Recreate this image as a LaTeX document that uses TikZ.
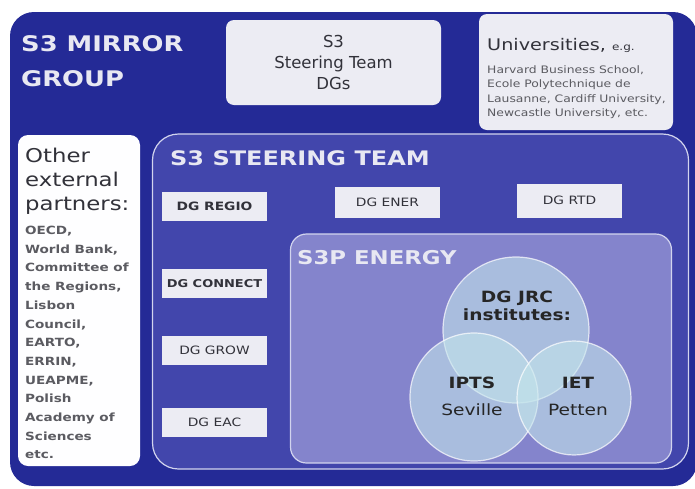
\documentclass[tikz,border=0pt]{standalone}
\usepackage{fontspec}
\setmainfont{DejaVu Sans}
\newfontfamily\widefont[FakeStretch=1.2]{DejaVu Sans}
\usepackage{xcolor}
\usetikzlibrary{positioning}
\definecolor{mirrorBlue}{RGB}{36,42,150}
\definecolor{steeringBlue}{RGB}{66,70,172}
\definecolor{energyLilac}{RGB}{132,132,204}
\definecolor{jrcCyan}{RGB}{195,228,235}
\definecolor{paleBox}{RGB}{236,236,243}
\definecolor{titleWhite}{RGB}{232,232,242}
\definecolor{inkGrey}{RGB}{50,50,58}
\definecolor{edgeLilac}{RGB}{210,212,238}

\begin{document}
\begin{tikzpicture}[x=1pt, y=-1pt]
    \tikzstyle{panel} = [rectangle, rounded corners=8pt, fill=paleBox, text=inkGrey]
    \tikzstyle{frame} = [rectangle, draw=edgeLilac, line width=1.2pt]
    \tikzstyle{dg} = [rectangle, minimum width=105pt, minimum height=29pt, fill=paleBox, text=inkGrey, font=\widefont\fontsize{11.5}{13}\selectfont]
    \tikzstyle{heading} = [anchor=west, inner sep=0pt, text=titleWhite, font=\widefont\fontsize{20}{24}\selectfont\bfseries]
    \tikzstyle{jrc} = [circle, fill=jrcCyan, fill opacity=0.6, draw=white, draw opacity=0.7, line width=1.2pt, inner sep=0pt]
    \tikzstyle{jrctext} = [text=black!85, font=\widefont\fontsize{15.5}{18}\selectfont]

    \useasboundingbox (0,0) rectangle (695,488);
    \fill[mirrorBlue, rounded corners=24pt] (10,12) rectangle (697,486);

    % mirror group
    \node[heading, font=\widefont\fontsize{21.5}{24}\selectfont\bfseries] (mirror) at (21,44) {S3 MIRROR};
    \node[heading, font=\widefont\fontsize{21.5}{24}\selectfont\bfseries] (group) at (21,79) {GROUP};
    \node[panel, minimum width=215pt, minimum height=85pt, align=center, font=\fontsize{16.5}{21}\selectfont] (dgs) at (333.5,62.5) {S3\\Steering Team\\DGs};
    \node[panel, minimum width=194pt, minimum height=116pt] (unis) at (576,72) {};
    \node[anchor=west, inner sep=0pt, text=inkGrey] (unihead) at (487,45) {\widefont\fontsize{16}{18}\selectfont Universities, \fontsize{10}{12}\selectfont e.g.};
    \node[anchor=north west, inner sep=0pt, align=left, text=inkGrey!80, font=\widefont\fontsize{10.3}{14.5}\selectfont] (unilist) at (487,65) {Harvard Business School,\\Ecole Polytechnique de\\Lausanne, Cardiff University,\\Newcastle University, etc.};

    \node[panel, rounded corners=10pt, minimum width=122pt, minimum height=331pt, fill=white!97!paleBox] (others) at (79,300.5) {};
    \node[anchor=north west, inner sep=0pt, align=left, text=inkGrey, font=\widefont\fontsize{19}{24}\selectfont] (otherhead) at (25,148) {Other\\external\\partners:};
    \node[anchor=north west, inner sep=0pt, align=left, text=inkGrey!80, font=\widefont\fontsize{11.3}{18.7}\selectfont\bfseries] (otherlist) at (25,226) {OECD,\\World Bank,\\Committee of\\the Regions,\\Lisbon\\Council,\\EARTO,\\ERRIN,\\UEAPME,\\Polish\\Academy of\\Sciences\\etc.};

    % steering team
    \node[frame, rounded corners=26pt, fill=steeringBlue, minimum width=536pt, minimum height=335pt] (steering) at (420.5,301.5) {};
    \node[heading] (steerhead) at (170,158) {S3 STEERING TEAM};
    \node[dg, font=\widefont\fontsize{11.5}{13}\selectfont\bfseries] (regio) at (214.5,206) {DG REGIO};
    \node[dg, font=\widefont\fontsize{10.8}{13}\selectfont\bfseries, below=48pt of regio] (connect) {DG CONNECT};
    \node[dg, below=38pt of connect] (grow) {DG GROW};
    \node[dg, below=42pt of grow] (eac) {DG EAC};
    \node[dg, minimum height=31pt] (ener) at (387.5,202) {DG ENER};
    \node[dg, minimum height=34pt] (rtd) at (569.5,200.5) {DG RTD};

    % energy partnership
    \node[frame, rounded corners=16pt, fill=energyLilac, minimum width=381pt, minimum height=229pt] (energy) at (481,348.5) {};
    \node[heading, font=\widefont\fontsize{19}{24}\selectfont\bfseries] (energyhead) at (297,258) {S3P ENERGY};
    \node[jrc, minimum size=146pt] (jrc) at (516,330) {};
    \node[jrc, minimum size=128pt] (ipts) at (474,397) {};
    \node[jrc, minimum size=114pt] (iet) at (574,398) {};
    \node[jrctext, align=center, font=\widefont\fontsize{15.5}{18}\selectfont\bfseries] (jrclabel) at (517,306) {DG JRC\\institutes:};
    \node[jrctext, font=\widefont\fontsize{15.5}{18}\selectfont\bfseries] (iptsname) at (472,383) {IPTS};
    \node[jrctext] (seville) at (472,410) {Seville};
    \node[jrctext, font=\widefont\fontsize{15.5}{18}\selectfont\bfseries] (ietname) at (578,383) {IET};
    \node[jrctext] (petten) at (578,410) {Petten};
\end{tikzpicture}
\end{document}
